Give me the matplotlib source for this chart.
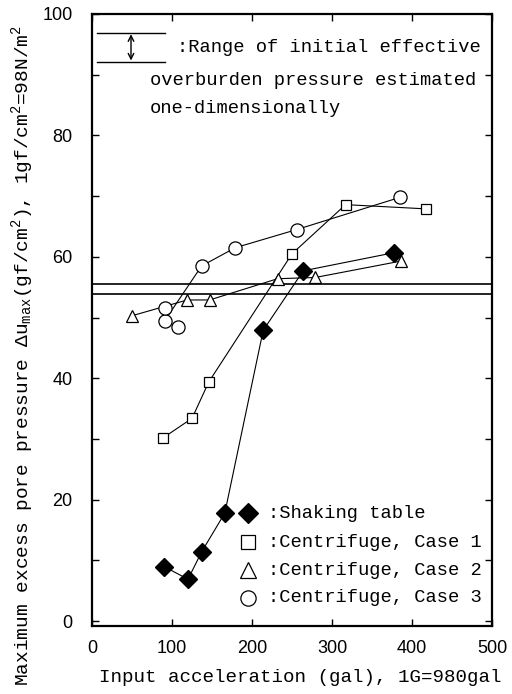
import matplotlib
matplotlib.use("Agg")
import matplotlib.pyplot as plt
from matplotlib.ticker import MultipleLocator

# ---- data ----
shaking_x = [90, 120, 137, 166, 214, 264, 378]
shaking_y = [9.0, 6.9, 11.4, 17.8, 47.9, 57.7, 60.7]

case1_x = [89, 125, 146, 250, 317, 418]
case1_y = [30.2, 33.4, 39.4, 60.5, 68.6, 67.9]

case2_x = [50, 119, 147, 232, 279, 386]
case2_y = [50.3, 52.9, 52.9, 56.4, 56.6, 59.3]

case3_x = [91, 137, 179, 256, 385]
case3_y = [49.5, 58.5, 61.5, 64.5, 69.8]
case3_extra_x = [91, 108]
case3_extra_y = [51.5, 48.5]

range_lines = [55.5, 53.9]

legend_labels = [":Shaking table", ":Centrifuge, Case 1",
                 ":Centrifuge, Case 2", ":Centrifuge, Case 3"]

xticks = [0, 100, 200, 300, 400, 500]
yticks = [0, 20, 40, 60, 80, 100]

plt.rcParams['mathtext.fontset'] = 'custom'
plt.rcParams['mathtext.rm'] = 'Liberation Mono'
plt.rcParams['mathtext.it'] = 'Liberation Mono'

TXT = dict(family='Liberation Mono', size=13.5)

fig = plt.figure(figsize=(5.12, 6.94), dpi=100)
ax = fig.add_axes([92/512, (694-626)/694, 400/512, 612/694])

lw = 0.8
ax.plot(shaking_x, shaking_y, '-', color='black', lw=lw,
        marker='D', ms=9, mfc='black', mec='black', zorder=3)
ax.plot(case1_x, case1_y, '-', color='black', lw=lw,
        marker='s', ms=7, mfc='white', mec='black', mew=0.9, zorder=3)
ax.plot(case2_x, case2_y, '-', color='black', lw=lw,
        marker='^', ms=9, mfc='white', mec='black', mew=0.9, zorder=3)
ax.plot(case3_x, case3_y, '-', color='black', lw=lw,
        marker='o', ms=9.5, mfc='white', mec='black', mew=0.9, zorder=3)
ax.plot(case3_extra_x, case3_extra_y, 'none',
        marker='o', ms=9.5, mfc='white', mec='black', mew=0.9, zorder=3)

for v in range_lines:
    ax.axhline(v, color='black', lw=1.2, zorder=2)

ax.set_xlim(0, 500)
ax.set_ylim(-0.8, 99.5)
ax.set_xticks(xticks)
ax.set_yticks(yticks)
ax.yaxis.set_minor_locator(MultipleLocator(10))
ax.tick_params(which='both', direction='in', top=True, right=True,
               length=5, width=1.0)
ax.tick_params(axis='x', pad=10)
ax.tick_params(axis='y', pad=14)
for lab in ax.get_xticklabels() + ax.get_yticklabels():
    lab.set_family('Liberation Sans')
    lab.set_fontsize(13)
for s in ax.spines.values():
    s.set_linewidth(1.6)

ax.set_xlabel("Input acceleration (gal), 1G=980gal",
              family='Liberation Mono', size=13.8)
ax.xaxis.set_label_coords(0.52, -0.07)
ax.set_ylabel(r"Maximum excess pore pressure $\Delta$u$_{max}$(gf/cm$^2$), "
              r"1gf/cm$^2$=98N/m$^2$", family='Liberation Mono', size=14.0)
ax.yaxis.set_label_coords(-0.14, 0.442)

# upper-left annotation box
tr = ax.transAxes
ax.plot([0.0125, 0.1825], [0.969, 0.969], transform=tr, color='black', lw=1.0)
ax.plot([0.0125, 0.1825], [0.9216, 0.9216], transform=tr, color='black', lw=1.0)
ax.annotate('', xy=(0.0975, 0.967), xytext=(0.0975, 0.924), xycoords=tr,
            textcoords=tr,
            arrowprops=dict(arrowstyle='<->', lw=1.0, color='black',
                            shrinkA=0, shrinkB=0, mutation_scale=10))
ax.text(0.2125, 0.946, ":Range of initial effective", transform=tr,
        ha='left', va='center', **TXT)
ax.text(0.145, 0.892, "overburden pressure estimated", transform=tr,
        ha='left', va='center', **TXT)
ax.text(0.145, 0.846, "one-dimensionally", transform=tr,
        ha='left', va='center', **TXT)

# lower-right legend
leg_y = [0.1846, 0.137, 0.0915, 0.0458]
leg_m = [dict(marker='D', ms=10, mfc='black'),
         dict(marker='s', ms=10, mfc='white'),
         dict(marker='^', ms=11, mfc='white'),
         dict(marker='o', ms=11, mfc='white')]
for yy, m, lab in zip(leg_y, leg_m, legend_labels):
    ax.plot([0.39], [yy], transform=tr, linestyle='none', mec='black',
            mew=0.9, **m)
    ax.text(0.44, yy, lab, transform=tr, ha='left', va='center', **TXT)

fig.savefig("out.png", dpi=100)
